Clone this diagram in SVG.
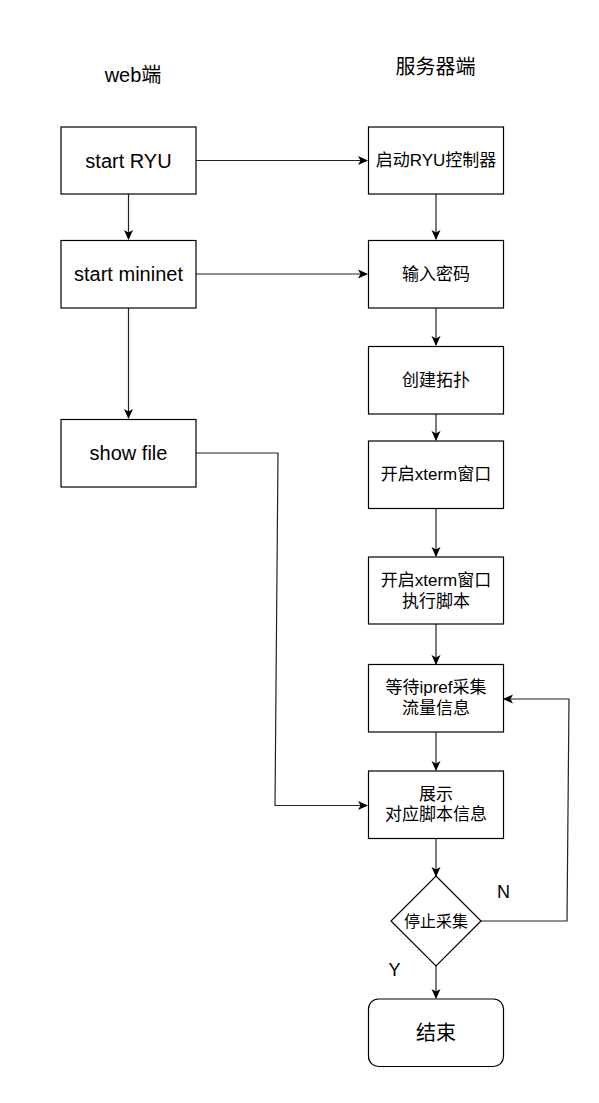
<svg xmlns="http://www.w3.org/2000/svg" width="599" height="1103" viewBox="0 0 599 1103">
<style>
.box{fill:#fff;stroke:#000;stroke-width:1.2}
.t{font-family:"Liberation Sans","Noto Sans CJK SC",sans-serif;fill:#000;text-anchor:middle;dominant-baseline:central}
.l{font-size:20px}
.r{font-size:17px}
.c{fill:none;stroke:#222;stroke-width:1.2}
</style>
<defs>
<marker id="a" viewBox="0 0 10 10" refX="9" refY="5" markerWidth="10" markerHeight="10" markerUnits="userSpaceOnUse" orient="auto">
<path d="M0,0.5 L10,5 L0,9.5 L2.5,5 Z" fill="#000"/>
</marker>
</defs>
<text class="t" x="133" y="75" font-size="20">web端</text>
<text class="t" x="435.5" y="67" font-size="20">服务器端</text>
<g id="connectors">
<path class="c" d="M196,160.5 H367" marker-end="url(#a)"/>
<path class="c" d="M128.5,194 V239" marker-end="url(#a)"/>
<path class="c" d="M196,274 H367" marker-end="url(#a)"/>
<path class="c" d="M128.5,308 V418" marker-end="url(#a)"/>
<path class="c" d="M196,453 H278 L275,805.5 H367" marker-end="url(#a)"/>
<path class="c" d="M436,194 V239" marker-end="url(#a)"/>
<path class="c" d="M436,308 V345" marker-end="url(#a)"/>
<path class="c" d="M436,414 V440" marker-end="url(#a)"/>
<path class="c" d="M436,508 V556" marker-end="url(#a)"/>
<path class="c" d="M436,624 V664" marker-end="url(#a)"/>
<path class="c" d="M436,732 V770" marker-end="url(#a)"/>
<path class="c" d="M436,838 V876" marker-end="url(#a)"/>
<path class="c" d="M436,966 V998" marker-end="url(#a)"/>
<path class="c" d="M481,921 H567 L569,699 H504" marker-end="url(#a)"/>
<text class="t" x="503.5" y="892" font-size="18">N</text>
<text class="t" x="394.5" y="970" font-size="18">Y</text>
</g>
<g id="startRYU"><rect class="box" x="61" y="127" width="135" height="67"/><text class="t l" x="128.5" y="160.5">start RYU</text></g>
<g id="startMininet"><rect class="box" x="61" y="240.5" width="135" height="67.5"/><text class="t l" x="128.5" y="274">start mininet</text></g>
<g id="showFile"><rect class="box" x="61" y="419.5" width="135" height="67.5"/><text class="t l" x="128.5" y="453">show file</text></g>
<g id="startController"><rect class="box" x="368.5" y="127" width="135" height="67"/><text class="t r" x="436" y="160.5">启动RYU控制器</text></g>
<g id="password"><rect class="box" x="368.5" y="240.5" width="135" height="67.5"/><text class="t r" x="436" y="274">输入密码</text></g>
<g id="topology"><rect class="box" x="368.5" y="346.5" width="135" height="67.5"/><text class="t r" x="436" y="380">创建拓扑</text></g>
<g id="xterm"><rect class="box" x="368.5" y="441" width="135" height="67.5"/><text class="t r" x="436" y="474.5">开启xterm窗口</text></g>
<g id="xtermScript"><rect class="box" x="368.5" y="557" width="135" height="67"/><text class="t r" x="436" y="580">开启xterm窗口</text><text class="t r" x="436" y="601">执行脚本</text></g>
<g id="iperf"><rect class="box" x="368.5" y="664.5" width="135" height="67.5"/><text class="t r" x="436" y="687.5">等待ipref采集</text><text class="t r" x="436" y="708.5">流量信息</text></g>
<g id="show"><rect class="box" x="368.5" y="771" width="135" height="67.5"/><text class="t r" x="436" y="794">展示</text><text class="t r" x="436" y="814.5">对应脚本信息</text></g>
<g id="stop"><path class="box" d="M436,876 L481,921 L436,966 L391,921 Z"/><text class="t" x="436" y="921" font-size="16">停止采集</text></g>
<g id="end"><rect class="box" x="368.5" y="999" width="135" height="67.5" rx="10" ry="10"/><text class="t l" x="436" y="1032.5">结束</text></g>
</svg>
